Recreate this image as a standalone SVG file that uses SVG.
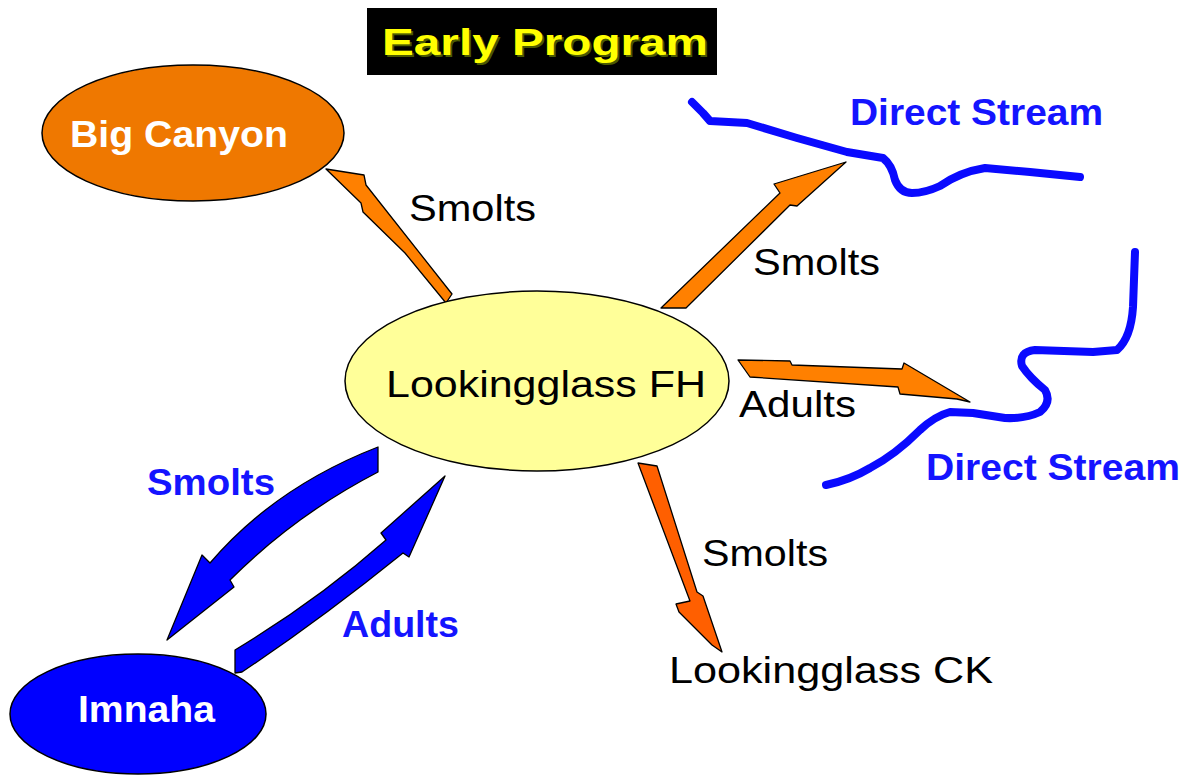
<svg xmlns="http://www.w3.org/2000/svg" width="1190" height="777" viewBox="0 0 1190 777">
<style>
text{font-family:"Liberation Sans",Arial,sans-serif;font-size:37px}
.blk{fill:#000}
.wht{fill:#fff;font-weight:bold}
.blu{fill:#1414ff;font-weight:bold}
.node{stroke:#000;stroke-width:1.5}
.oa{fill:#ff8000;stroke:#000;stroke-width:1.3;stroke-linejoin:round}
.ra{fill:#ff5f00;stroke:#000;stroke-width:1.3;stroke-linejoin:round}
.ba{fill:#0000ff;stroke:#000;stroke-width:1.3;stroke-linejoin:round}
.stream{fill:none;stroke:#0a0aff;stroke-width:8;stroke-linecap:round;stroke-linejoin:round}
</style>
<rect width="1190" height="777" fill="#fff"/>
<g id="title">
<rect x="367" y="8" width="350" height="67" fill="#000"/>
<text x="384" y="57" font-weight="bold" font-size="39" fill="#4a5a00" textLength="326" lengthAdjust="spacingAndGlyphs">Early Program</text>
<text x="382" y="55" font-weight="bold" font-size="39" fill="#ffff00" textLength="326" lengthAdjust="spacingAndGlyphs">Early Program</text>
</g>
<g id="streams">
<path class="stream" d="M692,102 L703,113 L710,121 L747,123 L797,138 L847,152 L883,158 Q892,165 895,180 Q900,193 912,193 Q925,193 940,186 Q960,172 985,168 L1030,172 L1080,177"/>
<path class="stream" d="M1135,252 L1133,307 Q1131,338 1117,350 L1093,352 L1035,350 Q1018,352 1022,366 Q1030,378 1045,390 Q1052,402 1040,412 Q1025,419 1005,418 L973,413 L950,412 Q935,416 920,430 Q895,455 870,468 Q850,480 826,485"/>
</g>
<g id="connectors">
<polygon class="oa" points="326,169 364,175 366,185 452,294 446,303 405,253 363,212 361,203"/>
<polygon class="oa" points="661,308 780,193 774,184 846,162 797,206 790,205 686,308"/>
<polygon class="oa" points="738,360 790,361 792,365 902,369 904,363 970,402 957,399 900,394 898,387 750,377"/>
<polygon class="ra" points="638,463 657,466 697,592 703,596 722,652 712,645 679,612 676,604 690,601"/>
<path class="ba" d="M378,447 L378,472 Q295,515 230,580 L234,587 L167,640 L202,555 L210,563 Q275,487 378,447 Z"/>
<path class="ba" d="M235,650 Q318,600 386,540 L381,533 L445,476 L409,557 L403,553 Q320,620 242,672 L235,673 Z"/>
</g>
<g id="big-canyon">
<ellipse class="node" cx="193" cy="133" rx="151" ry="68" fill="#ef7800"/>
<text class="wht" x="70" y="147" textLength="218" lengthAdjust="spacingAndGlyphs">Big Canyon</text>
</g>
<g id="lookingglass-fh">
<ellipse class="node" cx="537" cy="381" rx="192" ry="90" fill="#ffff99"/>
<text class="blk" x="386" y="397" textLength="320" lengthAdjust="spacingAndGlyphs">Lookingglass FH</text>
</g>
<g id="imnaha">
<ellipse class="node" cx="138" cy="714" rx="128" ry="60" fill="#0000ff"/>
<text class="wht" x="78" y="722" textLength="137" lengthAdjust="spacingAndGlyphs">Imnaha</text>
</g>
<g id="lookingglass-ck">
<text class="blk" x="669" y="683" textLength="324" lengthAdjust="spacingAndGlyphs">Lookingglass CK</text>
</g>
<g id="direct-stream-upper">
<text class="blu" x="850" y="125" textLength="253" lengthAdjust="spacingAndGlyphs">Direct Stream</text>
</g>
<g id="direct-stream-lower">
<text class="blu" x="926" y="480" textLength="254" lengthAdjust="spacingAndGlyphs">Direct Stream</text>
</g>
<g id="labels">
<text class="blk" x="409" y="221" textLength="127" lengthAdjust="spacingAndGlyphs">Smolts</text>
<text class="blk" x="753" y="275" textLength="127" lengthAdjust="spacingAndGlyphs">Smolts</text>
<text class="blk" x="739" y="417" textLength="117" lengthAdjust="spacingAndGlyphs">Adults</text>
<text class="blk" x="702" y="566" textLength="126" lengthAdjust="spacingAndGlyphs">Smolts</text>
<text class="blu" x="147" y="495" textLength="128" lengthAdjust="spacingAndGlyphs">Smolts</text>
<text class="blu" x="342" y="637" textLength="117" lengthAdjust="spacingAndGlyphs">Adults</text>
</g>
</svg>
